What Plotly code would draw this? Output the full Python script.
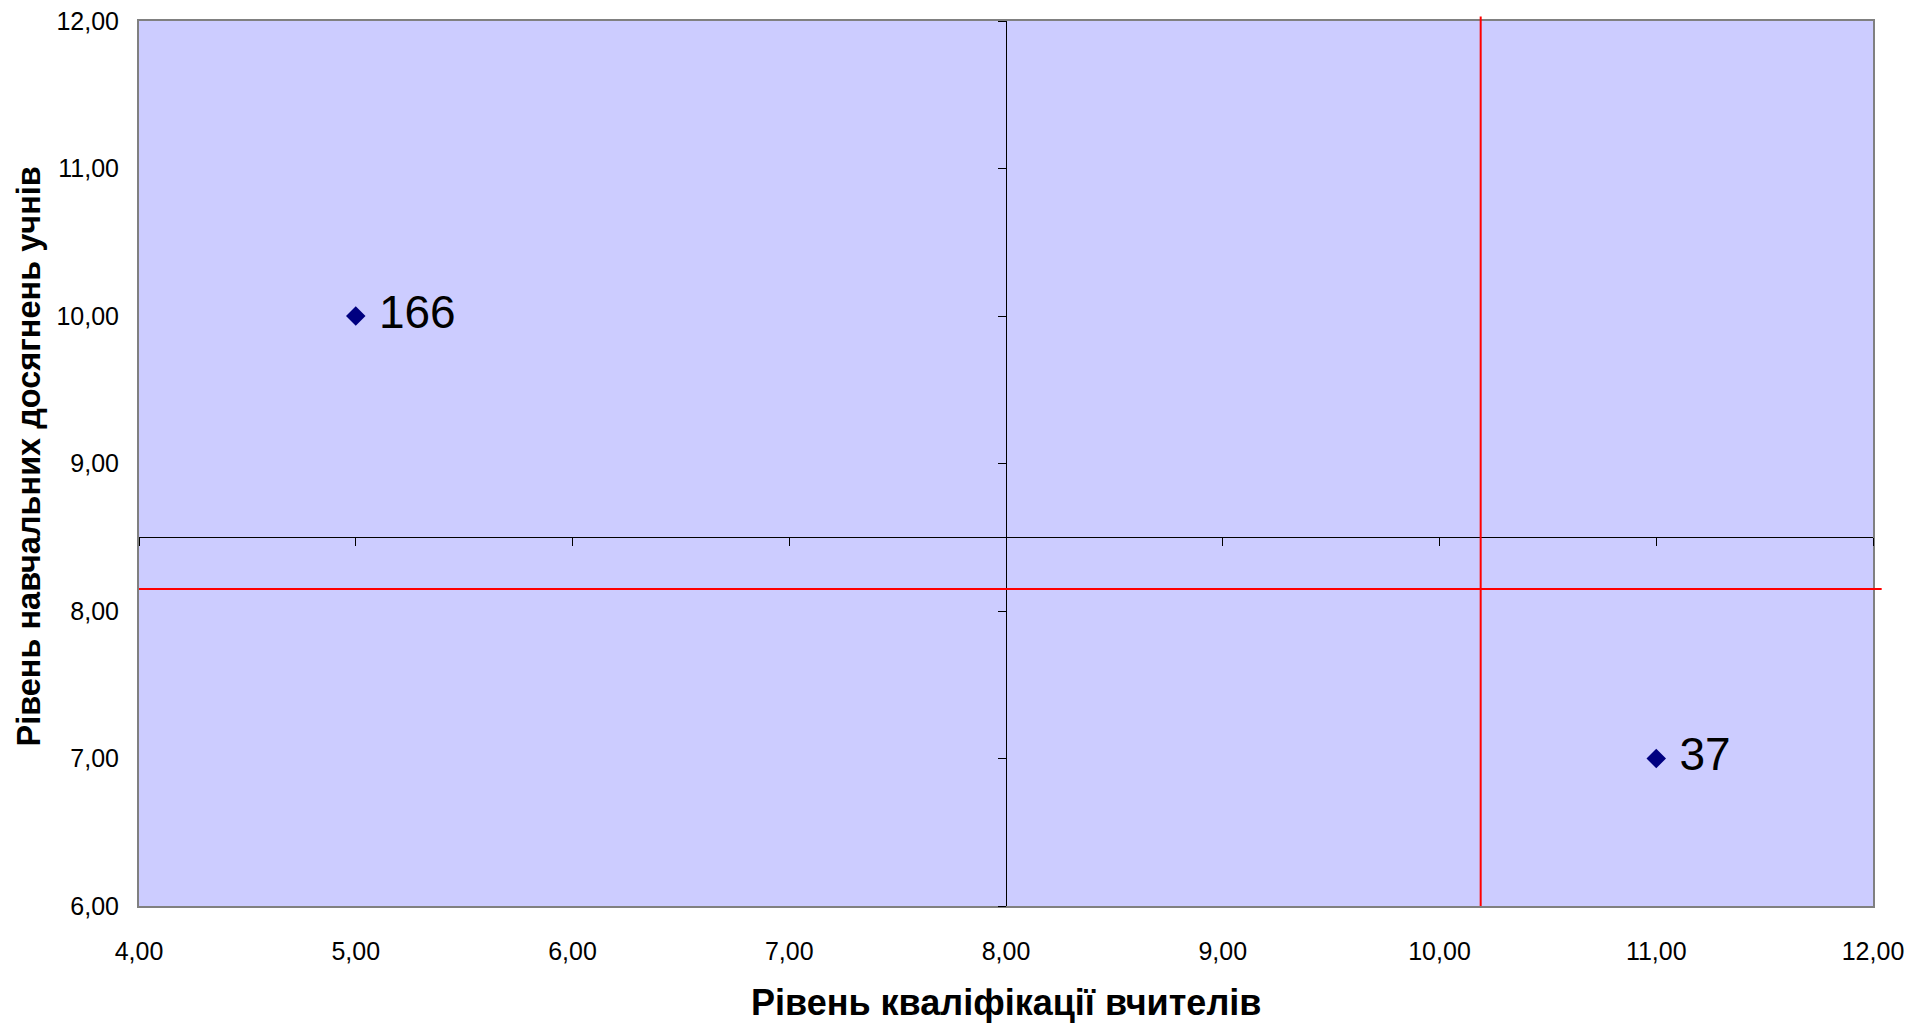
import plotly.graph_objects as go

# Data
x_vals = [5.0, 11.0]
y_vals = [10.0, 7.0]
point_labels = ["166", "37"]
x_mean = 10.19   # red vertical reference line
y_mean = 8.15    # red horizontal reference line
x_cross = 8.0    # where the vertical (y) axis crosses
y_cross = 8.5    # where the horizontal (x) axis crosses
x_range = [4, 12]
y_range = [6, 12]
x_ticks = [4, 5, 6, 7, 8, 9, 10, 11, 12]
y_ticks = [6, 7, 8, 9, 10, 11, 12]
x_title = "Рівень кваліфікації вчителів"
y_title = "Рівень навчальних досягнень учнів"

def fmt(v):
    return f"{v:.2f}".replace(".", ",")

FONT = "Liberation Sans, Arial, sans-serif"

fig = go.Figure()

# invisible trace on the crossing axes so they are drawn
fig.add_trace(go.Scatter(
    x=x_vals, y=y_vals, xaxis="x2", yaxis="y2", mode="markers",
    marker=dict(opacity=0), hoverinfo="skip", showlegend=False))

fig.add_trace(go.Scatter(
    x=x_vals, y=y_vals, mode="markers+text",
    text=point_labels, texttemplate=" %{text}", textposition="middle right",
    textfont=dict(family=FONT, size=46, color="black"),
    marker=dict(symbol="diamond", size=15, color="#000080"),
    showlegend=False, cliponaxis=False))

fig.update_layout(
    width=1926, height=1028,
    margin=dict(l=139, r=53, t=21, b=122, autoexpand=False),
    paper_bgcolor="white",
    plot_bgcolor="#CCCCFF",
    font=dict(family=FONT, color="black"),
    xaxis=dict(
        range=x_range, tickvals=x_ticks, ticktext=[fmt(v) for v in x_ticks],
        showgrid=False, zeroline=False, automargin=False,
        showline=True, linecolor="#808080", linewidth=2, mirror=True,
        ticks="outside", ticklen=22, tickcolor="rgba(0,0,0,0)",
        tickfont=dict(family=FONT, size=25, color="black"),
        ticklabeloverflow="allow",
    ),
    yaxis=dict(
        range=y_range, tickvals=y_ticks, ticktext=[fmt(v) for v in y_ticks],
        showgrid=False, zeroline=False, automargin=False,
        showline=True, linecolor="#808080", linewidth=2, mirror=True,
        ticks="outside", ticklen=13, tickcolor="rgba(0,0,0,0)",
        tickfont=dict(family=FONT, size=25, color="black"),
        ticklabeloverflow="allow",
    ),
    xaxis2=dict(
        range=x_range, tickvals=x_ticks, overlaying="x", anchor="free",
        position=(y_cross - y_range[0]) / (y_range[1] - y_range[0]),
        side="bottom", showgrid=False, zeroline=False, showticklabels=False,
        automargin=False,
        showline=True, linecolor="black", linewidth=1,
        ticks="outside", ticklen=8, tickcolor="black", tickwidth=1,
    ),
    yaxis2=dict(
        range=y_range, tickvals=y_ticks, overlaying="y", anchor="free",
        position=(x_cross - x_range[0]) / (x_range[1] - x_range[0]),
        side="left", showgrid=False, zeroline=False, showticklabels=False,
        automargin=False,
        showline=True, linecolor="black", linewidth=1,
        ticks="outside", ticklen=8, tickcolor="black", tickwidth=1,
    ),
    shapes=[
        dict(type="line", xref="x", yref="paper", x0=x_mean, x1=x_mean,
             y0=0, y1=1.005, line=dict(color="#FF0000", width=2), layer="above"),
        dict(type="line", xref="paper", yref="y", x0=0, x1=1.005,
             y0=y_mean, y1=y_mean, line=dict(color="#FF0000", width=2), layer="above"),
    ],
    annotations=[
        dict(text=f"<b>{x_title}</b>", xref="paper", yref="paper",
             x=0.5, y=-0.1096, xanchor="center", yanchor="middle",
             showarrow=False, font=dict(family=FONT, size=36, color="black")),
        dict(text=f"<b>{y_title}</b>", xref="paper", yref="paper",
             x=-0.0634, y=0.508, xanchor="center", yanchor="middle", textangle=-90,
             showarrow=False, font=dict(family=FONT, size=32.5, color="black")),
    ],
)

fig.write_html(
    "out.html",
    config={"displayModeBar": False},
    post_script="document.body.style.margin='0';document.body.style.overflow='hidden';",
)
